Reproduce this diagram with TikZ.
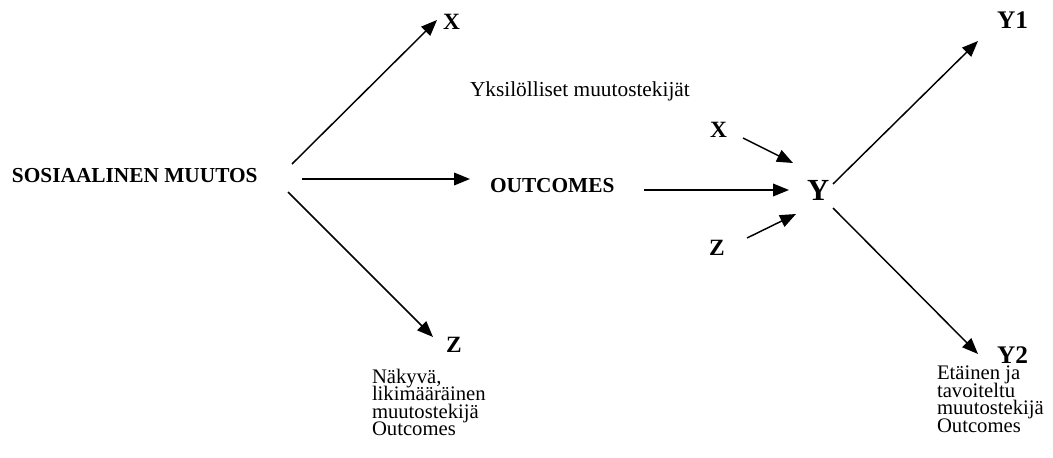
\documentclass[tikz,border=0pt]{standalone}
\usepackage{fontspec}
\setmainfont{Liberation Serif}
\usetikzlibrary{arrows.meta}
\newcommand\mytightlines{\lineskiplimit=-100pt\relax\lineskip=0pt\relax}
\tikzset{
  lbl/.style={inner sep=0pt, outer sep=0pt, anchor=base west},
  big/.style={lbl, font=\fontsize{16}{16}\selectfont\bfseries},
  var/.style={lbl, font=\fontsize{17.5}{17.5}\selectfont\bfseries},
  plain/.style={lbl, font=\fontsize{16}{16}\selectfont},
  note/.style={lbl, align=left, font=\fontsize{15.5}{13.1}\selectfont\mytightlines},
  arr/.style={line width=1.1pt, -{Triangle[length=12pt,width=9.5pt]}},
}
\begin{document}
\begin{tikzpicture}[x=0.75pt,y=-0.75pt]
\useasboundingbox (0,0) rectangle (1053,457);
% labels
\node[big] (soc) at (12,182) {SOSIAALINEN MUUTOS};
\node[var] (xa) at (443,29) {X};
\node[big] (out) at (490,192) {OUTCOMES};
\node[var] (za) at (446,352) {Z};
\node[plain] (yks) at (470,96) {Yksilölliset muutostekijät};
\node[var] (xb) at (710,137) {X};
\node[var] (zb) at (709,255) {Z};
\node[lbl, font=\fontsize{23}{23}\selectfont\bfseries] (y) at (807,200) {Y};
\node[lbl, font=\fontsize{19}{19}\selectfont\bfseries] (y1) at (997,28) {Y1};
\node[lbl, font=\fontsize{19}{19}\selectfont\bfseries] (y2) at (997,363) {Y2};
\node[note, anchor=north west] (nak) at (372,369) {Näkyvä,\\likimääräinen\\muutostekijä\\Outcomes};
\node[note, anchor=north west] (eta) at (937,366) {Etäinen ja\\tavoiteltu\\muutostekijä\\Outcomes};
% arrow end points
\coordinate (s1) at (292,164); \coordinate (t1) at (437,20);
\coordinate (s2) at (302,179); \coordinate (t2) at (470,179);
\coordinate (s3) at (288,192); \coordinate (t3) at (433,337);
\coordinate (s4) at (644,190); \coordinate (t4) at (789,190);
\coordinate (s5) at (743,138); \coordinate (t5) at (793,163);
\coordinate (s6) at (747,238); \coordinate (t6) at (796,214);
\coordinate (s7) at (833,184); \coordinate (t7) at (978,41);
\coordinate (s8) at (833,208); \coordinate (t8) at (978,354);
\draw[arr] (s1) -- (t1);
\draw[arr] (s2) -- (t2);
\draw[arr] (s3) -- (t3);
\draw[arr] (s4) -- (t4);
\draw[arr] (s5) -- (t5);
\draw[arr] (s6) -- (t6);
\draw[arr] (s7) -- (t7);
\draw[arr] (s8) -- (t8);
\end{tikzpicture}
\end{document}
